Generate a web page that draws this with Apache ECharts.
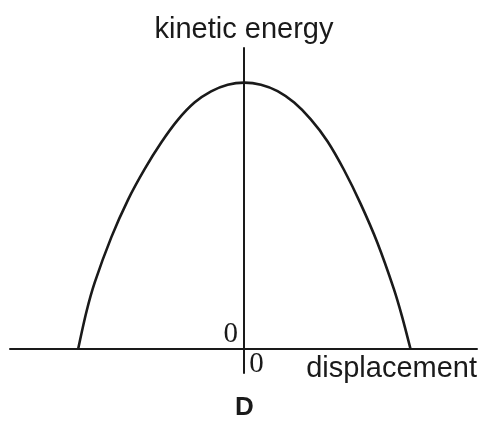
<!DOCTYPE html>
<html>
<head>
<meta charset="utf-8">
<script src="https://cdn.jsdelivr.net/npm/echarts@6/dist/echarts.min.js"></script>
<style>
  html, body { margin: 0; padding: 0; background: #fff; }
  #chart { width: 482px; height: 421px; }
</style>
</head>
<body>
<div id="chart"></div>
<script>
// displacement (amplitude = 1) and kinetic energy (max = 1)
const displacement = [-1.0, -0.95, -0.9, -0.8, -0.7, -0.6, -0.5, -0.4, -0.3, -0.2, -0.1, 0, 0.1, 0.2, 0.3, 0.4, 0.5, 0.6, 0.7, 0.8, 0.9, 0.95, 1.0]
const kineticEnergy = [0, 0.14, 0.25, 0.42, 0.56, 0.675, 0.775, 0.86, 0.925, 0.967, 0.992, 1.0, 0.992, 0.968, 0.925, 0.862, 0.78, 0.672, 0.545, 0.40, 0.225, 0.12, 0]
const axisZeroLabels = [0]

const ink = '#1a1a1a'
const sans = 'Liberation Sans, Arial, sans-serif'
const serif = 'Liberation Serif, Times New Roman, serif'

const chart = echarts.init(document.getElementById('chart'))

const option = {
  backgroundColor: '#fff',
  animation: false,
  title: {
    text: 'D',
    left: 235,
    top: 395,
    padding: 0,
    textStyle: { fontSize: 26, fontWeight: 'bold', fontFamily: sans, color: ink }
  },
  grid: { left: 10, right: 5, top: 48, bottom: 48, outerBoundsMode: 'none', containLabel: false },
  xAxis: {
    type: 'value',
    min: -1.41,
    max: 1.40,
    position: 'bottom',
    offset: -24,
    name: 'displacement',
    nameLocation: 'end',
    nameGap: 0,
    nameTextStyle: {
      fontSize: 29, fontFamily: sans, color: ink,
      align: 'right', verticalAlign: 'top', padding: [5, 0, 0, 0]
    },
    axisLine: { onZero: false, lineStyle: { color: ink, width: 2 } },
    axisTick: { show: false },
    splitLine: { show: false },
    axisLabel: {
      customValues: axisZeroLabels,
      align: 'left',
      margin: 1,
      padding: [0, 0, 0, 5],
      fontSize: 29, fontFamily: serif, color: ink
    }
  },
  yAxis: {
    type: 'value',
    min: -0.09,
    max: 1.13,
    position: 'left',
    offset: -234,
    name: 'kinetic energy',
    nameLocation: 'end',
    nameGap: 4,
    nameTextStyle: {
      fontSize: 29, fontFamily: sans, color: ink,
      align: 'center', verticalAlign: 'bottom'
    },
    axisLine: { onZero: false, lineStyle: { color: ink, width: 2 } },
    axisTick: { show: false },
    splitLine: { show: false },
    axisLabel: {
      customValues: axisZeroLabels,
      verticalAlign: 'bottom',
      margin: 6,
      fontSize: 29, fontFamily: serif, color: ink
    }
  },
  series: [
    {
      type: 'line',
      smooth: 0.3,
      showSymbol: false,
      lineStyle: { color: ink, width: 2.6 },
      data: displacement.map((d, i) => [d, kineticEnergy[i]])
    }
  ]
}

chart.setOption(option)
</script>
</body>
</html>
